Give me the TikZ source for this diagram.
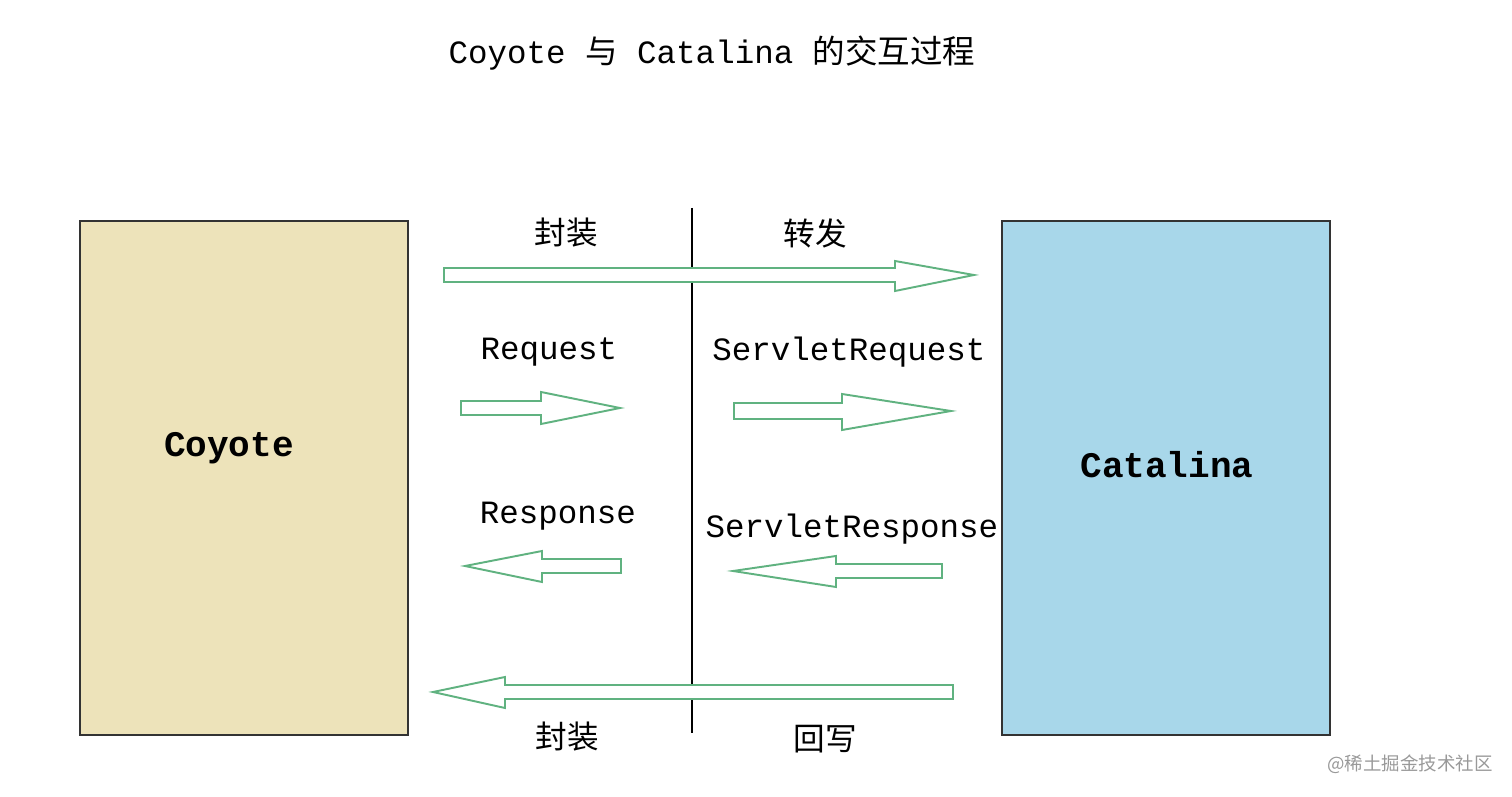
\documentclass[tikz,border=0pt]{standalone}
\usepackage{fontspec}
\setmonofont{Liberation Mono}
\newfontfamily\cjk{Noto Sans CJK SC}
\definecolor{coyotetan}{RGB}{237,227,186}
\definecolor{catalinablue}{RGB}{168,215,234}
\definecolor{arrowgreen}{RGB}{96,178,128}
\tikzset{
  lbl/.style={font=\ttfamily\fontsize{18.5}{20}\selectfont, inner sep=0pt},
  boxlbl/.style={font=\ttfamily\bfseries\fontsize{20.5}{22}\selectfont, inner sep=0pt},
  cn/.style={font=\cjk\fontsize{18}{20}\selectfont, inner sep=0pt},
  blockarrow/.style={draw=arrowgreen, line width=1.1pt, fill=white, line join=miter}
}

\begin{document}
\begin{tikzpicture}[x=0.02cm,y=-0.02cm]
\useasboundingbox (0,0) rectangle (1512,797);
% title
\node[lbl] (title) at (712,53) {Coyote {\cjk 与} Catalina {\cjk 的交互过程}};
% the two sides
\draw[fill=coyotetan, line width=0.8pt, draw=black!80] (80,221) rectangle (408,735);
\draw[fill=catalinablue, line width=0.8pt, draw=black!80] (1002,221) rectangle (1330,735);
\node[boxlbl] (coyote) at (229,448) {Coyote};
\node[boxlbl] (catalina) at (1167,465) {Catalina};
% divider
\draw[line width=0.8pt] (692,208) -- (692,733);
% top: wrap and forward
\node[cn] (wrapTop) at (566,233) {封装};
\node[cn] (forward) at (815,233) {转发};
\draw[blockarrow] (444,268) -- (895,268) -- (895,261) -- (974,275) -- (895,291) -- (895,282) -- (444,282) -- cycle;
% request
\node[lbl] (request) at (549,352) {Request};
\node[lbl] (servletRequest) at (849,352) {ServletRequest};
\draw[blockarrow] (461,401) -- (541,401) -- (541,392) -- (620,408) -- (541,424) -- (541,415) -- (461,415) -- cycle;
\draw[blockarrow] (734,403) -- (842,403) -- (842,394) -- (951,411) -- (842,430) -- (842,419) -- (734,419) -- cycle;
% response
\node[lbl] (response) at (558,516) {Response};
\node[lbl] (servletResponse) at (852,529) {ServletResponse};
\draw[blockarrow] (621,559) -- (542,559) -- (542,551) -- (465,566) -- (542,582) -- (542,573) -- (621,573) -- cycle;
\draw[blockarrow] (942,564) -- (836,564) -- (836,556) -- (733,571) -- (836,587) -- (836,578) -- (942,578) -- cycle;
% bottom: write back and wrap
\draw[blockarrow] (953,685) -- (505,685) -- (505,677) -- (433,692) -- (505,708) -- (505,699) -- (953,699) -- cycle;
\node[cn] (wrapBottom) at (567,737) {封装};
\node[cn] (writeBack) at (825,739) {回写};
% watermark
\node[font=\cjk\fontsize{10.5}{12}\selectfont, text=black!40, inner sep=0pt] (mark) at (1410,764) {@稀土掘金技术社区};
\end{tikzpicture}
\end{document}
